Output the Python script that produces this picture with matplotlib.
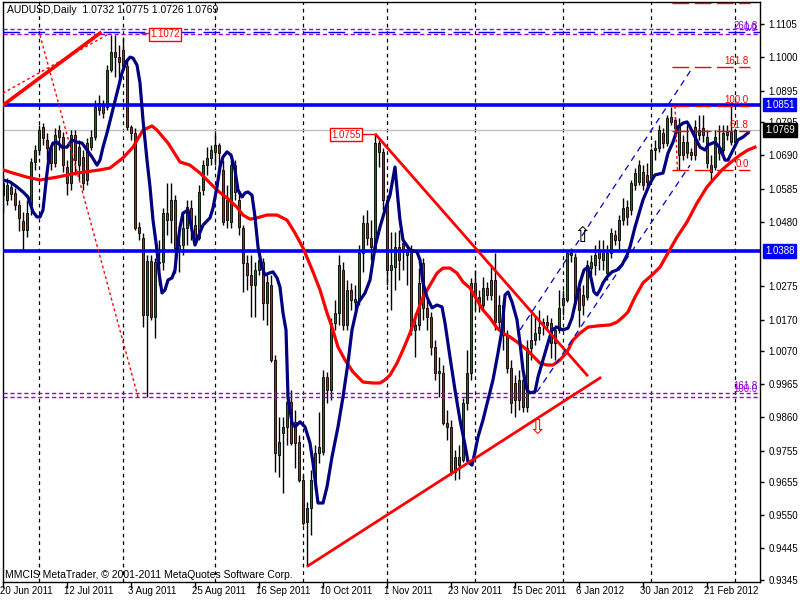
import matplotlib
matplotlib.use("Agg")
import matplotlib.pyplot as plt
import numpy as np
from matplotlib.transforms import blended_transform_factory

plt.rcParams['font.family'] = ['Liberation Sans', 'DejaVu Sans']

# daily AUDUSD bars, 20 Jun 2011 .. 1 Mar 2012 (bar index = trading day)
opens = [1.0564, 1.0549, 1.0590, 1.0571, 1.0533, 1.0482, 1.0454, 1.0533, 1.0669, 1.0707,
         1.0780, 1.0739, 1.0713, 1.0666, 1.0770, 1.0748, 1.0653, 1.0602, 1.0754, 1.0659,
         1.0685, 1.0729, 1.0716, 1.0748, 1.0834, 1.0846, 1.0843, 1.0960, 1.1017, 1.1001,
         1.1024, 1.0973, 1.0780, 1.0761, 1.0463, 1.0428, 1.0184, 1.0355, 1.0178, 1.0352,
         1.0352, 1.0507, 1.0485, 1.0549, 1.0390, 1.0406, 1.0460, 1.0523, 1.0469, 1.0428,
         1.0580, 1.0659, 1.0682, 1.0701, 1.0723, 1.0644, 1.0549, 1.0479, 1.0659, 1.0549,
         1.0460, 1.0349, 1.0311, 1.0279, 1.0327, 1.0352, 1.0222, 1.0279, 1.0042, 0.9741,
         0.9811, 0.9830, 0.9909, 0.9846, 0.9782, 0.9662, 0.9529, 0.9573, 0.9656, 0.9747,
         0.9751, 0.9988, 0.9947, 1.0159, 1.0191, 1.0327, 1.0153, 1.0264, 1.0226, 1.0232,
         1.0381, 1.0476, 1.0428, 1.0397, 1.0729, 1.0701, 1.0549, 1.0327, 1.0336, 1.0400,
         1.0412, 1.0374, 1.0390, 1.0137, 1.0153, 1.0349, 1.0207, 1.0178, 1.0083, 1.0001,
         1.0001, 0.9842, 0.9830, 0.9687, 0.9735, 0.9725, 0.9906, 1.0001, 1.0286, 1.0241,
         1.0216, 1.0270, 1.0248, 1.0295, 1.0162, 1.0216, 1.0121, 1.0017, 0.9969, 0.9915,
         0.9979, 0.9893, 1.0080, 1.0105, 1.0127, 1.0162, 1.0162, 1.0159, 1.0096, 1.0137,
         1.0216, 1.0232, 1.0374, 1.0368, 1.0270, 1.0248, 1.0241, 1.0333, 1.0343, 1.0390,
         1.0359, 1.0317, 1.0381, 1.0438, 1.0422, 1.0485, 1.0526, 1.0517, 1.0596, 1.0606,
         1.0637, 1.0628, 1.0618, 1.0707, 1.0713, 1.0761, 1.0729, 1.0811, 1.0802, 1.0691,
         1.0732, 1.0697, 1.0701, 1.0780, 1.0754, 1.0777, 1.0666, 1.0659, 1.0653, 1.0716,
         1.0707, 1.0754, 1.0764, 1.0732]
highs = [1.0628, 1.0618, 1.0606, 1.0587, 1.0549, 1.0511, 1.0549, 1.0682, 1.0723, 1.0786,
         1.0792, 1.0761, 1.0723, 1.0777, 1.0786, 1.0764, 1.0675, 1.0770, 1.0770, 1.0739,
         1.0707, 1.0745, 1.0770, 1.0865, 1.0881, 1.0865, 1.0976, 1.1072, 1.1071, 1.1039,
         1.1065, 1.0992, 1.0786, 1.0777, 1.0479, 1.0444, 1.0374, 1.0374, 1.0365, 1.0422,
         1.0523, 1.0602, 1.0602, 1.0564, 1.0444, 1.0501, 1.0549, 1.0549, 1.0501, 1.0596,
         1.0675, 1.0716, 1.0723, 1.0764, 1.0729, 1.0675, 1.0596, 1.0675, 1.0675, 1.0580,
         1.0469, 1.0374, 1.0374, 1.0352, 1.0390, 1.0365, 1.0311, 1.0311, 1.0058, 0.9861,
         0.9861, 0.9941, 0.9947, 0.9884, 0.9804, 0.9678, 0.9592, 0.9694, 0.9773, 0.9877,
         1.0010, 1.0004, 1.0175, 1.0232, 1.0374, 1.0352, 1.0295, 1.0286, 1.0279, 1.0406,
         1.0501, 1.0517, 1.0485, 1.0755, 1.0739, 1.0713, 1.0564, 1.0447, 1.0447, 1.0454,
         1.0428, 1.0406, 1.0406, 1.0191, 1.0333, 1.0365, 1.0232, 1.0194, 1.0105, 1.0051,
         1.0026, 0.9884, 0.9852, 0.9757, 0.9773, 0.9922, 1.0074, 1.0302, 1.0327, 1.0264,
         1.0305, 1.0289, 1.0343, 1.0381, 1.0248, 1.0232, 1.0137, 1.0042, 0.9994, 1.0010,
         1.0010, 1.0105, 1.0191, 1.0184, 1.0200, 1.0175, 1.0184, 1.0175, 1.0153, 1.0264,
         1.0264, 1.0390, 1.0397, 1.0381, 1.0295, 1.0279, 1.0359, 1.0374, 1.0406, 1.0422,
         1.0422, 1.0406, 1.0460, 1.0454, 1.0501, 1.0555, 1.0549, 1.0612, 1.0650, 1.0675,
         1.0659, 1.0666, 1.0713, 1.0739, 1.0786, 1.0777, 1.0818, 1.0843, 1.0811, 1.0808,
         1.0754, 1.0786, 1.0713, 1.0802, 1.0818, 1.0818, 1.0770, 1.0691, 1.0770, 1.0786,
         1.0786, 1.0786, 1.0856, 1.0775]
lows = [1.0507, 1.0533, 1.0549, 1.0517, 1.0450, 1.0390, 1.0431, 1.0501, 1.0644, 1.0691,
        1.0723, 1.0675, 1.0644, 1.0653, 1.0707, 1.0637, 1.0564, 1.0580, 1.0628, 1.0612,
        1.0580, 1.0596, 1.0707, 1.0739, 1.0818, 1.0808, 1.0834, 1.0954, 1.0938, 1.0919,
        1.0960, 1.0770, 1.0739, 1.0454, 1.0422, 1.0146, 0.9925, 1.0169, 1.0112, 1.0279,
        1.0327, 1.0438, 1.0412, 1.0317, 1.0321, 1.0374, 1.0406, 1.0422, 1.0406, 1.0422,
        1.0564, 1.0628, 1.0659, 1.0659, 1.0637, 1.0469, 1.0460, 1.0460, 1.0549, 1.0438,
        1.0257, 1.0264, 1.0178, 1.0178, 1.0311, 1.0169, 1.0153, 1.0036, 0.9687, 0.9671,
        0.9621, 0.9773, 0.9773, 0.9700, 0.9656, 0.9519, 0.9390, 0.9488, 0.9630, 0.9716,
        0.9741, 0.9906, 0.9915, 1.0137, 1.0153, 1.0137, 1.0137, 1.0200, 1.0200, 1.0216,
        1.0321, 1.0406, 1.0359, 1.0390, 1.0653, 1.0517, 1.0279, 1.0200, 1.0264, 1.0295,
        1.0327, 1.0279, 1.0121, 1.0051, 1.0137, 1.0169, 1.0137, 1.0058, 0.9979, 0.9925,
        0.9836, 0.9789, 0.9678, 0.9662, 0.9665, 0.9719, 0.9884, 0.9979, 1.0200, 1.0194,
        1.0200, 1.0232, 1.0232, 1.0137, 1.0137, 1.0074, 1.0001, 0.9874, 0.9861, 0.9884,
        0.9877, 0.9877, 1.0042, 1.0089, 1.0105, 1.0121, 1.0137, 1.0048, 1.0042, 1.0127,
        1.0184, 1.0226, 1.0352, 1.0216, 1.0146, 1.0184, 1.0232, 1.0311, 1.0311, 1.0327,
        1.0327, 1.0295, 1.0365, 1.0406, 1.0390, 1.0469, 1.0469, 1.0501, 1.0580, 1.0596,
        1.0580, 1.0587, 1.0606, 1.0675, 1.0701, 1.0713, 1.0720, 1.0786, 1.0748, 1.0644,
        1.0675, 1.0682, 1.0675, 1.0675, 1.0739, 1.0732, 1.0650, 1.0606, 1.0644, 1.0675,
        1.0691, 1.0739, 1.0723, 1.0726]
closes = [1.0602, 1.0596, 1.0568, 1.0533, 1.0492, 1.0454, 1.0507, 1.0669, 1.0707, 1.0770,
          1.0745, 1.0713, 1.0666, 1.0754, 1.0748, 1.0659, 1.0602, 1.0754, 1.0675, 1.0716,
          1.0602, 1.0612, 1.0748, 1.0843, 1.0856, 1.0824, 1.0960, 1.1017, 1.1001, 1.0986,
          1.0973, 1.0780, 1.0761, 1.0460, 1.0444, 1.0184, 1.0355, 1.0178, 1.0352, 1.0349,
          1.0507, 1.0485, 1.0549, 1.0397, 1.0406, 1.0460, 1.0526, 1.0469, 1.0422, 1.0574,
          1.0659, 1.0682, 1.0707, 1.0723, 1.0697, 1.0479, 1.0485, 1.0659, 1.0574, 1.0463,
          1.0349, 1.0311, 1.0279, 1.0327, 1.0359, 1.0222, 1.0289, 1.0042, 0.9747, 0.9782,
          0.9830, 0.9909, 0.9779, 0.9779, 0.9662, 0.9526, 0.9573, 0.9662, 0.9747, 0.9766,
          0.9988, 0.9947, 1.0159, 1.0191, 1.0343, 1.0153, 1.0264, 1.0232, 1.0235, 1.0381,
          1.0476, 1.0428, 1.0400, 1.0729, 1.0701, 1.0549, 1.0327, 1.0343, 1.0400, 1.0359,
          1.0384, 1.0390, 1.0137, 1.0153, 1.0286, 1.0207, 1.0178, 1.0083, 1.0001, 1.0007,
          0.9842, 0.9830, 0.9687, 0.9735, 0.9709, 0.9906, 1.0001, 1.0286, 1.0241, 1.0216,
          1.0270, 1.0248, 1.0295, 1.0162, 1.0216, 1.0121, 1.0017, 0.9906, 0.9915, 0.9979,
          0.9893, 1.0080, 1.0105, 1.0127, 1.0146, 1.0156, 1.0153, 1.0096, 1.0137, 1.0207,
          1.0238, 1.0381, 1.0381, 1.0232, 1.0200, 1.0216, 1.0343, 1.0352, 1.0374, 1.0365,
          1.0390, 1.0381, 1.0444, 1.0422, 1.0485, 1.0523, 1.0495, 1.0602, 1.0634, 1.0659,
          1.0596, 1.0606, 1.0707, 1.0713, 1.0770, 1.0729, 1.0808, 1.0796, 1.0777, 1.0786,
          1.0691, 1.0732, 1.0691, 1.0691, 1.0770, 1.0754, 1.0748, 1.0637, 1.0748, 1.0697,
          1.0761, 1.0764, 1.0732, 1.0769]

# moving averages (shifted forward a few bars)
navy_idx = [0, 1.75, 3.5, 5, 6.25, 7.5, 8.5, 9.25, 10, 11, 11.75, 12.5, 13.5, 14.75, 16, 17.25,
            18.5, 19.75, 21, 22.25, 23.5, 24.25, 25, 26, 27.25, 28.5, 29.75, 30.75, 31.75, 32.5,
            33.5, 34.25, 35, 36, 36.75, 37.5, 38.5, 39, 39.75, 40.5, 41.25, 42.25, 43, 43.5,
            44.25, 45, 46.25, 47.25, 48, 48.75, 50, 51.75, 52.5, 53.5, 54.25, 55, 56, 57, 58,
            58.75, 59.75, 60.5, 61.25, 62.25, 63, 63.75, 64.75, 65.5, 66.5, 67.5, 68.5, 69.25,
            70, 70.75, 71.25, 72.25, 73, 74.25, 75.5, 76.75, 77.5, 78.75, 80, 81, 82.25, 83.75,
            85, 86.25, 87.25, 88.75, 90.5, 91.75, 93, 94.25, 95.5, 96.75, 98, 98.75, 99.25, 100,
            101.75, 103.5, 104.25, 105, 106, 107.25, 108.5, 109.75, 110.5, 111.75, 113, 114.25,
            115.5, 116.25, 117.25, 118, 118.75, 120, 121.25, 122.5, 123.75, 124.75, 125.5,
            126.25, 127.25, 128.5, 129.25, 130, 131, 131.75, 133, 133.75, 135, 136.25, 137.25,
            138.5, 140, 141.25, 142.25, 143.25, 144.25, 145.25, 146.25, 147, 147.75, 148.5,
            149.25, 150, 151, 152.25, 153.5, 154.75, 156, 156.75, 158, 159.25, 160, 161.75, 163,
            165, 166.25, 167.5, 168.75, 170, 171, 171.75, 173, 174.25, 175.5, 176.25, 178,
            179.25, 180.5, 181.25, 182.5, 183.75, 185, 186.25]
navy_val = [1.0612, 1.0606, 1.0590, 1.0574, 1.0558, 1.0511, 1.0495, 1.0495, 1.0517, 1.0634,
            1.0707, 1.0729, 1.0732, 1.0716, 1.0716, 1.0739, 1.0732, 1.0729, 1.0707, 1.0685,
            1.0659, 1.0675, 1.0716, 1.0761, 1.0824, 1.0887, 1.0951, 1.0986, 1.1001, 1.0998,
            1.0976, 1.0919, 1.0802, 1.0675, 1.0590, 1.0485, 1.0390, 1.0317, 1.0254, 1.0264,
            1.0295, 1.0302, 1.0327, 1.0390, 1.0463, 1.0507, 1.0517, 1.0454, 1.0406, 1.0431,
            1.0469, 1.0492, 1.0523, 1.0590, 1.0653, 1.0685, 1.0701, 1.0691, 1.0644, 1.0580,
            1.0558, 1.0571, 1.0574, 1.0564, 1.0495, 1.0400, 1.0336, 1.0311, 1.0317, 1.0321,
            1.0302, 1.0273, 1.0191, 1.0137, 0.9925, 0.9843, 0.9830, 0.9846, 0.9830, 0.9779,
            0.9716, 0.9589, 0.9589, 0.9640, 0.9735, 0.9830, 0.9925, 1.0033, 1.0137, 1.0222,
            1.0254, 1.0295, 1.0400, 1.0463, 1.0517, 1.0564, 1.0653, 1.0549, 1.0485, 1.0422,
            1.0390, 1.0384, 1.0359, 1.0286, 1.0241, 1.0207, 1.0216, 1.0210, 1.0159, 1.0051,
            0.9947, 0.9852, 0.9773, 0.9719, 0.9709, 0.9751, 0.9798, 0.9852, 0.9915, 0.9979,
            1.0064, 1.0137, 1.0248, 1.0257, 1.0226, 1.0169, 1.0096, 1.0010, 0.9947, 0.9938,
            0.9941, 0.9988, 1.0042, 1.0096, 1.0137, 1.0146, 1.0137, 1.0143, 1.0175, 1.0232,
            1.0286, 1.0327, 1.0336, 1.0302, 1.0257, 1.0248, 1.0264, 1.0286, 1.0305, 1.0321,
            1.0327, 1.0343, 1.0374, 1.0400, 1.0463, 1.0517, 1.0549, 1.0602, 1.0628, 1.0634,
            1.0697, 1.0732, 1.0780, 1.0792, 1.0796, 1.0780, 1.0748, 1.0716, 1.0707, 1.0723,
            1.0732, 1.0713, 1.0675, 1.0675, 1.0707, 1.0739, 1.0748, 1.0761]
red_idx = [0, 2.5, 6, 9.25, 13.5, 18.5, 24.25, 26.75, 30, 32.5, 35, 37.25, 38.5, 41.25, 44.25,
           46.75, 49.25, 51, 53.5, 56, 58.5, 60, 61.75, 63.5, 66, 68.5, 71, 73, 75, 77.5, 79.25,
           81, 82.25, 83.75, 85.5, 87.5, 90, 92.5, 94.25, 95.5, 96.75, 98.5, 100, 101.75, 103.5,
           105, 106.75, 108.5, 110, 111.75, 113.5, 115, 116.75, 118.5, 120, 121.75, 123.5, 125,
           126.75, 128.5, 131, 134.25, 136, 137.5, 139.25, 141, 142.5, 144.25, 146.25, 148.75,
           151.75, 153.5, 155, 156.25, 158, 160, 162.25, 164.25, 166.25, 168.5, 171, 173.5, 176,
           177.5, 179.75, 181.75, 184.25, 186.25, 188]
red_val = [1.0644, 1.0634, 1.0621, 1.0612, 1.0621, 1.0634, 1.0644, 1.0650, 1.0682, 1.0716,
           1.0770, 1.0783, 1.0770, 1.0729, 1.0669, 1.0659, 1.0634, 1.0612, 1.0580, 1.0555,
           1.0526, 1.0501, 1.0488, 1.0492, 1.0501, 1.0501, 1.0485, 1.0444, 1.0397, 1.0321,
           1.0264, 1.0191, 1.0146, 1.0083, 1.0042, 1.0004, 0.9972, 0.9969, 0.9969, 0.9979,
           0.9994, 1.0032, 1.0074, 1.0127, 1.0191, 1.0241, 1.0279, 1.0317, 1.0333, 1.0333,
           1.0317, 1.0289, 1.0270, 1.0232, 1.0200, 1.0175, 1.0143, 1.0127, 1.0115, 1.0099,
           1.0074, 1.0032, 1.0026, 1.0026, 1.0042, 1.0067, 1.0105, 1.0127, 1.0146, 1.0150,
           1.0153, 1.0162, 1.0178, 1.0194, 1.0241, 1.0286, 1.0311, 1.0336, 1.0381, 1.0431,
           1.0479, 1.0539, 1.0590, 1.0612, 1.0644, 1.0666, 1.0691, 1.0707, 1.0716]

# x axis labels every 16 bars, monthly separators
date_idx = [0, 16, 32, 48, 64, 80, 96, 112, 128, 144, 160, 176]
date_labels = ['20 Jun 2011', '12 Jul 2011', '3 Aug 2011', '25 Aug 2011', '16 Sep 2011',
               '10 Oct 2011', '1 Nov 2011', '23 Nov 2011', '15 Dec 2011', '6 Jan 2012',
               '30 Jan 2012', '21 Feb 2012']
month_idx = [9, 30, 53, 75, 96, 118, 140, 162, 183]
price_ticks = [1.1105, 1.1000, 1.0895, 1.0795, 1.0690, 1.0585, 1.0480, 1.0275, 1.0170,
               1.0070, 0.9965, 0.9860, 0.9755, 0.9655, 0.9550, 0.9445, 0.9345]

# drawn objects
blue_levels = [1.0851, 1.0388]
bid_price = 1.0769
purple_levels = [1.1089, 1.1075, 0.99365, 0.99257]
blue_dash_level = 1.1080
top_left_trend = ([0, 24.25], [1.0849, 1.1077])
fan_a = ([0, 26.75], [1.0887, 1.1077])
fan_b = ([9.25, 33.75], [1.1071, 0.9925])
down_trend = ([93.25, 146], [1.0755, 0.9994])
up_trend = ([76.25, 149.25], [0.9390, 0.9985])
channel_a = ([129.25, 172.5], [1.0137, 1.0970])
channel_b = ([133.5, 171.75], [0.9941, 1.0659])
fib_prices = [1.1172, 1.0970, 1.0846, 1.0767, 1.0644]
fib_labels = ['', '161.8', '100.0', '61.8', '0.0']
fib_span = [167.25, 186.75]

o = np.array(opens)
h = np.array(highs)
l = np.array(lows)
c = np.array(closes)
idx = np.arange(len(c))

fig = plt.figure(figsize=(8, 6), dpi=100)
ax = fig.add_axes([3 / 800, 18 / 600, 757 / 800, 580 / 600])
ax.set_xlim(0, 189.25)
ax.set_ylim(0.93388, 1.11757)

for xm in month_idx:
    ax.axvline(xm, color='black', lw=0.9, dashes=(3, 3), zorder=1)

# candles
ax.vlines(idx, l, h, color='black', lw=1, zorder=2)
up = c >= o
bot = np.minimum(o, c)
hgt = np.maximum(np.abs(c - o), 0.00012)
ax.bar(idx[up], hgt[up], bottom=bot[up], width=0.72, color='#008000',
       edgecolor='black', linewidth=0.6, zorder=2.5)
ax.bar(idx[~up], hgt[~up], bottom=bot[~up], width=0.72, color='#ff0000',
       edgecolor='black', linewidth=0.6, zorder=2.5)

# horizontal levels
for p in blue_levels:
    ax.axhline(p, color='#0000ff', lw=2.6, zorder=3)
ax.axhline(bid_price, color='#c0c0c0', lw=1, zorder=1.5)
for p in purple_levels:
    ax.axhline(p, color='#9400d3', lw=1, dashes=(3, 2), zorder=3)
ax.axhline(blue_dash_level, color='#0000ff', lw=1, dashes=(12, 6), zorder=3)

# moving averages
ax.plot(red_idx, red_val, color='#ff0000', lw=2.3, zorder=4)
ax.plot(navy_idx, navy_val, color='#000080', lw=2.3, zorder=4.5)

# trend lines and fibo objects
ax.plot(*top_left_trend, color='#ff0000', lw=2.6, zorder=5)
ax.plot(*fan_a, color='#ff0000', lw=1, dashes=(2, 2), zorder=5)
ax.plot(*fan_b, color='#ff0000', lw=1, dashes=(2, 2), zorder=5)
ax.plot(*down_trend, color='#ff0000', lw=2, zorder=5)
ax.plot(*up_trend, color='#ff0000', lw=2, zorder=5)
ax.plot(*channel_a, color='#0000cd', lw=0.9, dashes=(5, 4), zorder=5)
ax.plot(*channel_b, color='#0000cd', lw=0.9, dashes=(5, 4), zorder=5)
for p, lab in zip(fib_prices, fib_labels):
    ax.plot(fib_span, [p, p], color='#ff0000', lw=1, dashes=(12, 4), zorder=5)
    if lab:
        ax.text(fib_span[1] - 0.3, p + 0.0004, lab, color='#ff0000', fontsize=7,
                ha='right', va='bottom', zorder=6)
ax.plot([168, 168.6], [fib_prices[2], fib_prices[4]], color='#ff0000', lw=1,
        dashes=(2, 2), zorder=5)

# price labels on the chart
box = dict(boxstyle='square,pad=0.15', facecolor='white', edgecolor='#ff0000', lw=1)
ax.text(40.5, 1.1074, '1.1072', color='#ff0000', fontsize=7, ha='center', va='center',
        bbox=box, zorder=6)
ax.plot([34.5, 37.2], [1.1077, 1.1077], color='#ff0000', lw=1, zorder=5)
ax.text(85.75, 1.0755, '1.0755', color='#ff0000', fontsize=7, ha='center', va='center',
        bbox=box, zorder=6)
ax.plot([89.6, 93.0], [1.0758, 1.0758], color='#ff0000', lw=1, zorder=5)

ax.text(188.6, 1.1101, '261.8', color='#9400d3', fontsize=7, ha='right', va='center', zorder=6)
ax.text(188.6, 1.1092, '0.0', color='#6a00ff', fontsize=7, ha='right', va='center', zorder=6)
ax.text(188.6, 0.9959, '161.8', color='#9400d3', fontsize=7, ha='right', va='center', zorder=6)
ax.text(188.6, 0.9950, '100.0', color='#9400d3', fontsize=7, ha='right', va='center', zorder=6)

ax.text(144.75, 1.0435, '\u21e7', color='black', fontsize=15, family='DejaVu Sans',
        ha='center', va='center', zorder=6)
ax.text(133.6, 0.9827, '\u21e9', color='#ff0000', fontsize=15, family='DejaVu Sans',
        ha='center', va='center', zorder=6)

# axes styling
for s in ax.spines.values():
    s.set_color('black')
    s.set_linewidth(1)
ax.yaxis.tick_right()
ax.set_yticks(price_ticks)
ax.set_yticklabels(['%.4f' % p for p in price_ticks])
ax.tick_params(axis='y', direction='out', length=3, width=1, labelsize=7, pad=3)
ax.set_xticks(date_idx)
ax.set_xticklabels([])
ax.tick_params(axis='x', direction='out', length=4, width=1)

tr = blended_transform_factory(ax.transData, fig.transFigure)
for xi, lab in zip(date_idx, date_labels):
    ax.text(xi - 0.8, 1 - 591.5 / 600, lab, transform=tr, fontsize=7, ha='left', va='center',
            clip_on=False)

right_boxes = [(1.0851, '#0000ff'), (1.0388, '#0000ff'), (bid_price, 'black')]
for p, col in right_boxes:
    ax.annotate('%.4f' % p, xy=(1, p), xycoords=('axes fraction', 'data'),
                xytext=(5, 0), textcoords='offset pixels', ha='left', va='center',
                color='white', fontsize=7, annotation_clip=False,
                bbox=dict(boxstyle='square,pad=0.2', facecolor=col, edgecolor=col))

fig.text(7 / 800, 1 - 10 / 600, 'AUDUSD,Daily  1.0732 1.0775 1.0726 1.0769', fontsize=7.5,
         ha='left', va='center')
fig.text(5 / 800, 1 - 575 / 600, 'MMCIS MetaTrader, \u00a9 2001-2011 MetaQuotes Software Corp.',
         fontsize=7.5, ha='left', va='center')

fig.savefig('out.png', dpi=100)
